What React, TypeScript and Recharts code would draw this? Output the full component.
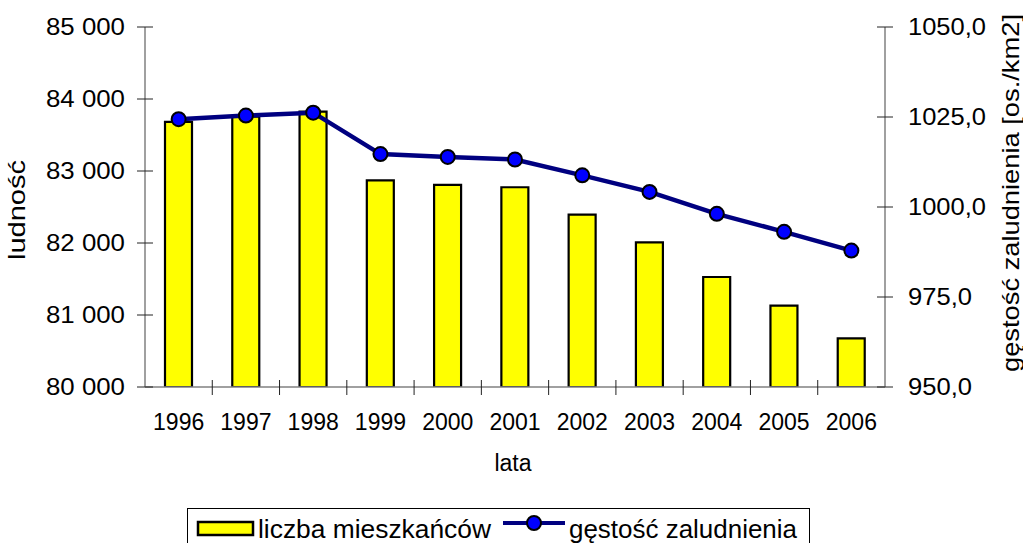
import { Bar, ComposedChart, Legend, Line, XAxis, YAxis } from 'recharts'

const years = ['1996', '1997', '1998', '1999', '2000', '2001', '2002', '2003', '2004', '2005', '2006']
const population = [83681, 83754, 83824, 82871, 82806, 82774, 82393, 82010, 81528, 81130, 80676]
const density = [1024.4, 1025.4, 1026.2, 1014.7, 1013.9, 1013.2, 1008.8, 1004.2, 998.1, 993.1, 987.9]
const populationTicks = [80000, 81000, 82000, 83000, 84000, 85000]
const densityTicks = [950, 975, 1000, 1025, 1050]

const data = years.map((year, i) => ({ year, population: population[i], density: density[i] }))

const FONT = '"Liberation Sans", Arial, sans-serif'
const W = 1023
const H = 543
const LEFT_W = 145
const RIGHT_W = 138
const HALF_BAND = (W - LEFT_W - RIGHT_W) / years.length / 2

const fmtPopulation = (v: number) => `${Math.floor(v / 1000)} ${String(v % 1000).padStart(3, '0')}`
const fmtDensity = (v: number) => v.toFixed(1).replace('.', ',')

function XTick({ x, y, payload, index }: any) {
  return (
    <g>
      {index > 0 && (
        <line x1={x - HALF_BAND} x2={x - HALF_BAND} y1={y - 7} y2={y + 8} stroke="#222" strokeWidth={1} />
      )}
      <text x={x} y={y + 43} textAnchor="middle" fontFamily={FONT} fontSize={23} fill="#000">
        {payload.value}
      </text>
    </g>
  )
}

function LeftTick({ x, y, payload }: any) {
  return (
    <g>
      <line x1={x - 8} x2={x + 8} y1={y} y2={y} stroke="#222" strokeWidth={1} />
      <text
        x={x - 20}
        y={y + 8}
        textAnchor="end"
        fontFamily={FONT}
        fontSize={23.5}
        fill="#000"
        textLength={79}
        lengthAdjust="spacingAndGlyphs"
      >
        {fmtPopulation(payload.value)}
      </text>
    </g>
  )
}

function RightTick({ x, y, payload }: any) {
  const label = fmtDensity(payload.value)
  return (
    <g>
      <line x1={x - 8} x2={x + 8} y1={y} y2={y} stroke="#222" strokeWidth={1} />
      <text
        x={x + 23}
        y={y + 8}
        textAnchor="start"
        fontFamily={FONT}
        fontSize={23.5}
        fill="#000"
        textLength={label.length > 5 ? 78 : 64}
        lengthAdjust="spacingAndGlyphs"
      >
        {label}
      </text>
    </g>
  )
}

const leftTitle = ({ viewBox }: any) => {
  const cx = viewBox.x + 25
  const cy = viewBox.y + viewBox.height / 2 + 3
  return (
    <text
      x={cx}
      y={cy}
      transform={`rotate(-90, ${cx}, ${cy})`}
      textAnchor="middle"
      fontFamily={FONT}
      fontSize={24}
      fill="#000"
      textLength={100}
      lengthAdjust="spacingAndGlyphs"
    >
      ludność
    </text>
  )
}

const rightTitle = ({ viewBox }: any) => {
  const cx = viewBox.x + viewBox.width - 4
  const cy = viewBox.y + viewBox.height / 2 - 14
  return (
    <text
      x={cx}
      y={cy}
      transform={`rotate(-90, ${cx}, ${cy})`}
      textAnchor="middle"
      fontFamily={FONT}
      fontSize={24}
      fill="#000"
      textLength={358}
      lengthAdjust="spacingAndGlyphs"
    >
      gęstość zaludnienia [os./km2]
    </text>
  )
}

const bottomTitle = ({ viewBox }: any) => (
  <text x={viewBox.x + viewBox.width / 2 - 2} y={viewBox.y + 84} textAnchor="middle" fontFamily={FONT} fontSize={23} fill="#000">
    lata
  </text>
)

function LegendBox() {
  return (
    <svg width={623} height={45} style={{ display: 'block' }}>
      <rect x={0.5} y={0.5} width={622} height={60} fill="#fff" stroke="#000" strokeWidth={1} />
      <rect x={11} y={14} width={55} height={13} fill="#FFFF00" stroke="#000" strokeWidth={2.5} />
      <text x={71} y={30} fontFamily={FONT} fontSize={26} fill="#000" textLength={233} lengthAdjust="spacingAndGlyphs">
        liczba mieszkańców
      </text>
      <line x1={316} x2={378} y1={15} y2={15} stroke="#000080" strokeWidth={4} />
      <circle cx={347} cy={15} r={7} fill="#0000FF" stroke="#000" strokeWidth={2} />
      <text x={382} y={30} fontFamily={FONT} fontSize={26} fill="#000" textLength={228} lengthAdjust="spacingAndGlyphs">
        gęstość zaludnienia
      </text>
    </svg>
  )
}

export default function App() {
  return (
    <div style={{ position: 'absolute', left: 0, top: 0, width: W, height: H, background: '#fff', overflow: 'hidden' }}>
      <ComposedChart width={W} height={H} data={data} margin={{ top: 27, right: 0, bottom: 0, left: 0 }}>
        <XAxis
          dataKey="year"
          height={H - 387}
          stroke="#808080"
          strokeWidth={1.5}
          tickLine={false}
          tickSize={0}
          tickMargin={0}
          interval={0}
          tick={<XTick />}
          label={bottomTitle}
        />
        <YAxis
          yAxisId="left"
          orientation="left"
          width={LEFT_W}
          domain={[80000, 85000]}
          ticks={populationTicks}
          interval={0}
          allowDataOverflow
          stroke="#808080"
          strokeWidth={1.5}
          tickLine={false}
          tickSize={0}
          tickMargin={0}
          tick={<LeftTick />}
          label={leftTitle}
        />
        <YAxis
          yAxisId="right"
          orientation="right"
          width={RIGHT_W}
          domain={[950, 1050]}
          ticks={densityTicks}
          interval={0}
          allowDataOverflow
          stroke="#808080"
          strokeWidth={1.5}
          tickLine={false}
          tickSize={0}
          tickMargin={0}
          tick={<RightTick />}
          label={rightTitle}
        />
        <Legend
          verticalAlign="middle"
          align="center"
          layout="horizontal"
          wrapperStyle={{ top: 508, left: 187, width: 623, height: 45 }}
          content={() => <LegendBox />}
        />
        <Bar
          yAxisId="left"
          dataKey="population"
          name="liczba mieszkańców"
          fill="#FFFF00"
          stroke="#000"
          strokeWidth={2.2}
          barSize={27}
          isAnimationActive={false}
        />
        <Line
          yAxisId="right"
          dataKey="density"
          name="gęstość zaludnienia"
          stroke="#000080"
          strokeWidth={4.5}
          dot={{ r: 7, fill: '#0000FF', stroke: '#000', strokeWidth: 2 }}
          activeDot={false}
          isAnimationActive={false}
        />
      </ComposedChart>
    </div>
  )
}
